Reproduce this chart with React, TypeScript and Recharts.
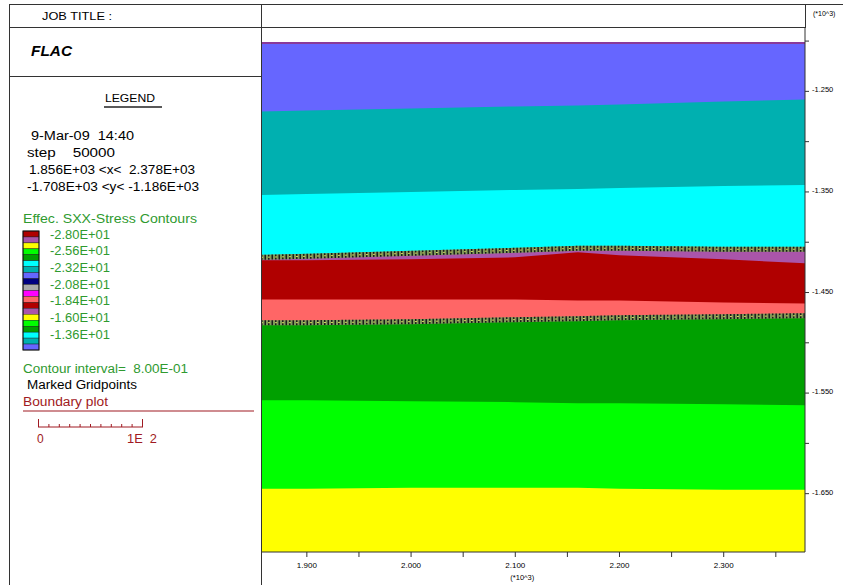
import { ComposedChart, Area, Line, XAxis, YAxis } from "recharts";

// x positions (m) where the contour boundaries were read
const xs = [1856, 1900, 2000, 2100, 2160, 2200, 2300, 2378];

// top of each coloured band (y, m)
const surfaceTop = [-1202, -1202, -1202, -1202, -1202, -1202, -1202, -1202];
const tealTop = [-1270, -1269, -1267, -1265, -1264, -1263, -1260, -1258];
const cyanTop = [-1353, -1352, -1350, -1348, -1347, -1346, -1344, -1343];
const upperInterface = [-1415, -1414, -1411, -1408, -1406, -1406, -1407, -1407];
const redTop = [-1418, -1418, -1417, -1415, -1410, -1413, -1417, -1421];
const salmonTop = [-1457, -1457, -1457, -1457, -1458, -1458, -1460, -1461];
const lowerInterface = [-1480, -1480, -1479, -1477, -1476, -1475, -1474, -1473];
const limeTop = [-1557, -1557, -1558, -1559, -1560, -1560, -1561, -1562];
const yellowTop = [-1645, -1645, -1644, -1644, -1644, -1645, -1646, -1646];

const xTicks = [1900, 1950, 2000, 2050, 2100, 2150, 2200, 2250, 2300, 2350];
const xLabelled = [1900, 2000, 2100, 2200, 2300];
const yTicks = [-1650, -1600, -1550, -1500, -1450, -1400, -1350, -1300, -1250, -1200];
const yLabelled = [-1650, -1550, -1450, -1350, -1250];

const legendColors = [
  "#b00000", "#aa55aa", "#ffff00", "#00ff00", "#00a000", "#00ffff", "#00b0b0",
  "#6666ff", "#000080", "#aaaaaa", "#ff00ff", "#ff6666", "#b00000", "#aa55aa",
  "#ffff00", "#00ff00", "#00a000", "#00ffff", "#00b0b0", "#6666ff",
];
const legendLevels = [
  "-2.80E+01", "-2.56E+01", "-2.32E+01", "-2.08E+01", "-1.84E+01", "-1.60E+01", "-1.36E+01",
];

const data = xs.map((x, i) => ({
  x,
  surface: surfaceTop[i],
  teal: tealTop[i],
  cyan: cyanTop[i],
  upper: upperInterface[i],
  red: redTop[i],
  salmon: salmonTop[i],
  lower: lowerInterface[i],
  lime: limeTop[i],
  yellow: yellowTop[i],
}));

const bands = [
  { key: "surface", color: "#6666ff" },
  { key: "teal", color: "#00b0b0" },
  { key: "cyan", color: "#00ffff" },
  { key: "upper", color: "#aa55aa" },
  { key: "red", color: "#b00000" },
  { key: "salmon", color: "#ff6666" },
  { key: "lower", color: "#00a000" },
  { key: "lime", color: "#00ff00" },
  { key: "yellow", color: "#ffff00" },
];

const FONT = "'Liberation Sans', Arial, sans-serif";
const GREEN = "#2f9a2f";
const DARKRED = "#a01a22";

function XTick(props: any) {
  const { x, y, payload } = props;
  const v = payload.value;
  if (!xLabelled.includes(v)) return <g />;
  return (
    <g>
      <text x={x} y={y + 9} textAnchor="middle" fontSize={8} fontFamily={FONT} fill="#000">
        {(v / 1000).toFixed(3)}
      </text>
      {v === 2100 && (
        <text x={x + 7} y={y + 21} textAnchor="middle" fontSize={7.5} fontFamily={FONT} fill="#000">
          (*10^3)
        </text>
      )}
    </g>
  );
}

function YTick(props: any) {
  const { x, y, payload } = props;
  const v = payload.value;
  if (!yLabelled.includes(v)) return <g />;
  return (
    <text x={x + 1} y={y + 1} textAnchor="start" fontSize={7.5} fontFamily={FONT} fill="#000">
      {(v / 1000).toFixed(3)}
    </text>
  );
}

function LeftPanel() {
  const barTop = 231;
  const sw = 119 / legendColors.length;
  return (
    <svg
      width={843}
      height={585}
      style={{ position: "absolute", left: 0, top: 0, pointerEvents: "none" }}
    >
      {/* frame */}
      <line x1={9} y1={4.5} x2={843} y2={4.5} stroke="#333" />
      <line x1={9.5} y1={4} x2={9.5} y2={585} stroke="#333" />
      <line x1={261.5} y1={4} x2={261.5} y2={585} stroke="#333" />
      <line x1={9} y1={27.5} x2={805} y2={27.5} stroke="#333" />
      <line x1={9} y1={76.5} x2={261} y2={76.5} stroke="#333" />
      <line x1={805.5} y1={4} x2={805.5} y2={28} stroke="#333" />
      <text x={813} y={16} fontSize={7} fontFamily={FONT} fill="#000">(*10^3)</text>

      <text x={42} y={20} fontSize={11.5} fontFamily={FONT} textLength={70} lengthAdjust="spacingAndGlyphs">JOB TITLE :</text>
      <text x={31} y={56} fontSize={14} fontWeight="bold" fontStyle="italic" fontFamily={FONT} textLength={41} lengthAdjust="spacingAndGlyphs">FLAC</text>

      <text x={105} y={102} fontSize={11.5} fontFamily={FONT} textLength={50} lengthAdjust="spacingAndGlyphs">LEGEND</text>
      <line x1={104} y1={107} x2={162} y2={107} stroke="#222" strokeWidth={1.5} />

      <text x={31} y={140} fontSize={12} fontFamily={FONT} textLength={103} lengthAdjust="spacingAndGlyphs" xmlSpace="preserve">9-Mar-09  14:40</text>
      <text x={27} y={157} fontSize={12} fontFamily={FONT} textLength={88} lengthAdjust="spacingAndGlyphs" xmlSpace="preserve">step    50000</text>
      <text x={29} y={174} fontSize={12} fontFamily={FONT} textLength={166} lengthAdjust="spacingAndGlyphs" xmlSpace="preserve">1.856E+03 &lt;x&lt;  2.378E+03</text>
      <text x={27} y={191} fontSize={12} fontFamily={FONT} textLength={172} lengthAdjust="spacingAndGlyphs" xmlSpace="preserve">-1.708E+03 &lt;y&lt; -1.186E+03</text>

      <text x={23} y={223} fontSize={12} fontFamily={FONT} fill={GREEN} textLength={174} lengthAdjust="spacingAndGlyphs">Effec. SXX-Stress Contours</text>
      {legendColors.map((c, i) => (
        <rect key={i} x={23} y={barTop + i * sw} width={16} height={sw} fill={c} stroke="#111" strokeWidth={0.4} />
      ))}
      <rect x={23} y={barTop} width={16} height={119} fill="none" stroke="#111" strokeWidth={1} />
      {legendLevels.map((t, i) => (
        <text key={t} x={50} y={238.5 + i * 16.7} fontSize={12} fontFamily={FONT} fill={GREEN} textLength={60} lengthAdjust="spacingAndGlyphs">
          {t}
        </text>
      ))}

      <text x={23} y={373} fontSize={12} fontFamily={FONT} fill={GREEN} textLength={165} lengthAdjust="spacingAndGlyphs" xmlSpace="preserve">Contour interval=  8.00E-01</text>
      <text x={27} y={389} fontSize={12} fontFamily={FONT} fill="#000" textLength={110} lengthAdjust="spacingAndGlyphs">Marked Gridpoints</text>
      <text x={23} y={406} fontSize={12} fontFamily={FONT} fill={DARKRED} textLength={85} lengthAdjust="spacingAndGlyphs">Boundary plot</text>
      <line x1={23} y1={411} x2={254} y2={411} stroke={DARKRED} strokeWidth={1.2} />

      {/* scale bar */}
      <line x1={38} y1={427} x2={143} y2={427} stroke={DARKRED} />
      <line x1={38.5} y1={419} x2={38.5} y2={427} stroke={DARKRED} />
      <line x1={142.5} y1={419} x2={142.5} y2={427} stroke={DARKRED} />
      {Array.from({ length: 9 }, (_, i) => (
        <line key={i} x1={38.5 + (i + 1) * 10.4} y1={424} x2={38.5 + (i + 1) * 10.4} y2={427} stroke={DARKRED} />
      ))}
      <text x={37} y={443} fontSize={12} fontFamily={FONT} fill={DARKRED}>0</text>
      <text x={127} y={443} fontSize={12} fontFamily={FONT} fill={DARKRED} textLength={30} lengthAdjust="spacingAndGlyphs" xmlSpace="preserve">1E  2</text>
    </svg>
  );
}

export default function App() {
  return (
    <div style={{ position: "absolute", left: 0, top: 0, width: 843, height: 585, background: "#fff" }}>
      <ComposedChart
        width={843}
        height={585}
        data={data}
        margin={{ top: 27, right: 0, bottom: 0, left: 261 }}
        style={{ position: "absolute", left: 0, top: 0 }}
      >
        <XAxis
          dataKey="x"
          type="number"
          domain={[1856, 2378]}
          allowDataOverflow
          ticks={xTicks}
          interval={0}
          height={33}
          tickSize={5}
          tickMargin={2}
          tick={<XTick />}
          axisLine={{ stroke: "#333" }}
          tickLine={{ stroke: "#333" }}
        />
        <YAxis
          orientation="right"
          type="number"
          domain={[-1708, -1186]}
          allowDataOverflow
          ticks={yTicks}
          interval={0}
          width={38}
          tickSize={4}
          tickMargin={2}
          tick={<YTick />}
          axisLine={{ stroke: "#333" }}
          tickLine={{ stroke: "#333" }}
        />
        {bands.map((b) => (
          <Area
            key={b.key}
            type="linear"
            dataKey={b.key}
            baseValue={-1708}
            stroke="none"
            fill={b.color}
            fillOpacity={1}
            dot={false}
            activeDot={false}
            isAnimationActive={false}
          />
        ))}
        <Line type="linear" dataKey="surface" stroke="#8a3a9a" strokeWidth={2} dot={false} activeDot={false} isAnimationActive={false} />
        {["upper", "lower"].map((k) => (
          <Line key={k + "g"} type="linear" dataKey={k} stroke="#7f9a5a" strokeWidth={5} dot={false} activeDot={false} isAnimationActive={false} />
        ))}
        {["upper", "lower"].map((k) => (
          <Line key={k + "h"} type="linear" dataKey={k} stroke="#1a1a1a" strokeWidth={5} strokeDasharray="1.5 2" dot={false} activeDot={false} isAnimationActive={false} />
        ))}
        {["upper", "lower"].map((k) => (
          <Line key={k + "y"} type="linear" dataKey={k} stroke="#d8d860" strokeWidth={1} strokeDasharray="2 5" dot={false} activeDot={false} isAnimationActive={false} />
        ))}
      </ComposedChart>
      <LeftPanel />
    </div>
  );
}
